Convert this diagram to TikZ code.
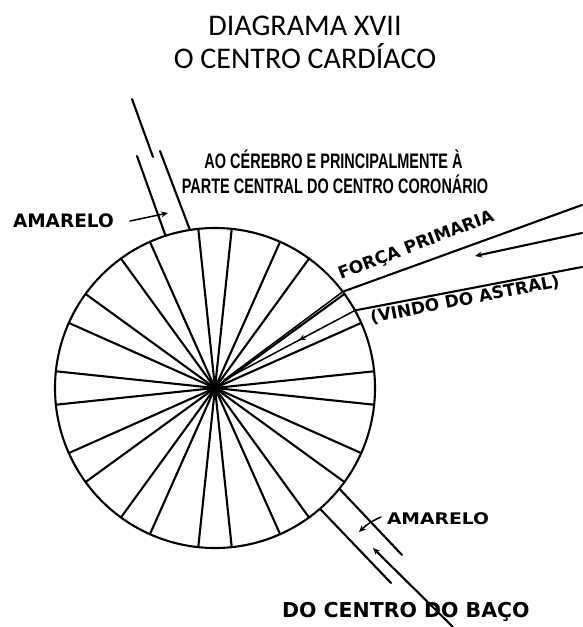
\documentclass[tikz,border=0pt]{standalone}
\usepackage{fontspec}
\usepackage{graphicx}
\usetikzlibrary{arrows.meta,calc}
\newfontfamily\titlefont{Carlito}
\newfontfamily\condfont[FakeStretch=0.69]{Liberation Sans}
\newfontfamily\handfont{DejaVu Sans}
\begin{document}
\begin{tikzpicture}[x=1pt,y=-1pt,line width=2.1pt,line cap=round,line join=round,
  txt/.style={inner sep=0pt,outer sep=0pt},
  hand/.style={txt,font=\handfont\bfseries\fontsize{#1}{#1}\selectfont},
  tip/.style={-{Stealth[length=7pt,width=6pt]}},
  thin/.style={line width=1.5pt}]
\path[fill=white] (0,0) rectangle (582,627);
\useasboundingbox (0,0) rectangle (582,627);

% titles
\node[txt,anchor=base,font=\titlefont\fontsize{30}{33}\selectfont] (t1) at (305,35) {DIAGRAMA XVII};
\node[txt,anchor=base,font=\titlefont\fontsize{30}{33}\selectfont] (t2) at (305,68) {O CENTRO CARDÍACO};

% wheel
\node[circle,draw,minimum size=320pt,inner sep=0pt,outer sep=0pt] (wheel) at (215,388) {};
\foreach \k in {0,...,11}{
  \foreach \s in {-6,6}{
    \pgfmathsetmacro{\a}{\k*30+\s}
    \draw (wheel.center) -- (wheel.\a);
  }
}

% upper channel
\coordinate (tl) at (137,156);
\coordinate (tr) at (160,151);
\coordinate (ts1) at (132,99);
\coordinate (ts2) at (153,157);
\draw (wheel.108) -- (tl);
\draw (wheel.99.5) -- (tr);
\draw (ts1) -- (ts2);

% lower channel
\coordinate (bl) at (391,583);
\coordinate (br) at (402,555);
\coordinate (ba1) at (453,627);
\coordinate (ba2) at (373,548);
\draw (wheel.-39.4) -- (br);
\draw (wheel.-49.8) -- (bl);
\draw[tip] (ba1) -- (ba2);

% force lines
\coordinate (fu) at (582,205);
\coordinate (fl) at (582,267);
\coordinate (conv) at (224,380);
\coordinate (fm1) at (582,233);
\coordinate (fm2) at (475,256);
\draw (fu) -- (wheel.37.5);
\draw[thin] (wheel.37.5) -- (conv);
\draw (fl) -- (wheel.29.5);
\draw[thin] (wheel.29.5) -- (conv);
\draw[thin,tip] ($(wheel.29.5)!0.38!(conv)$) -- ($(wheel.29.5)!0.43!(conv)$);
\draw[tip] (fm1) -- (fm2);

% labels
\node[txt,anchor=base,font=\condfont\bfseries\fontsize{21}{21}\selectfont] (l1) at (333.5,168) {AO CÉREBRO E PRINCIPALMENTE À};
\node[txt,anchor=base,font=\condfont\bfseries\fontsize{21}{21}\selectfont] (l2) at (335,193) {PARTE CENTRAL DO CENTRO CORONÁRIO};

\node[hand=18.5,anchor=base west] (am1) at (13,227) {AMARELO};
\coordinate (a1s) at (130,221);
\coordinate (a1e) at (168,213);
\draw[thin,tip] (a1s) -- (a1e);

\node[hand=16,anchor=base west] (am2) at (387,524) {\scalebox{1.17}[1]{AMARELO}};
\coordinate (a2s) at (381,517);
\coordinate (a2e) at (359,532);
\draw[thin,tip] (a2s) to[bend right=10] (a2e);

\node[hand=20.5,anchor=base west] (baco) at (282,617) {DO CENTRO DO BAÇO};
\node[hand=17,anchor=base,rotate=21] (forca) at (418,250) {FORÇA PRIMARIA};
\node[hand=17,anchor=base,rotate=11] (vindo) at (466,305) {(VINDO DO ASTRAL)};
\end{tikzpicture}
\end{document}
